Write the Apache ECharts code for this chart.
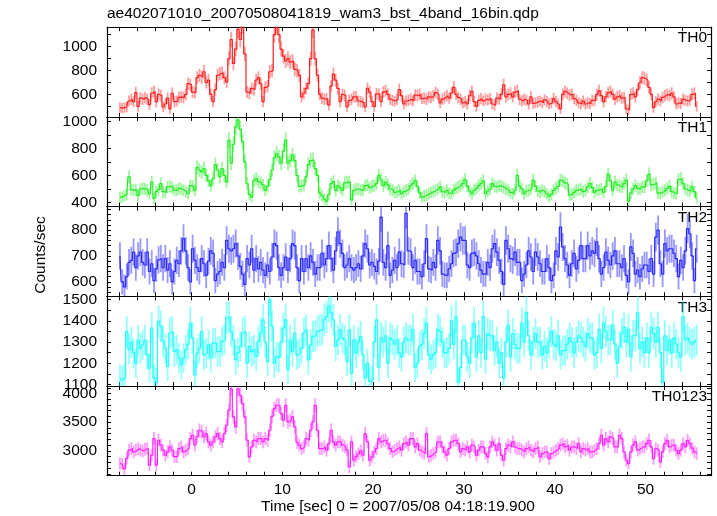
<!DOCTYPE html>
<html><head><meta charset="utf-8">
<script src="https://cdn.jsdelivr.net/npm/echarts@6/dist/echarts.min.js"></script>
<style>html,body{margin:0;padding:0;background:#fff}#c{width:717px;height:516px}</style>
</head><body><div id="c"></div>
<script>
const chartTitle = 'ae402071010_20070508041819_wam3_bst_4band_16bin.qdp';
const xAxisTitle = 'Time [sec] 0 = 2007/05/08 04:18:19.900';
const yAxisTitle = 'Counts/sec';
const bandNames = ['TH0', 'TH1', 'TH2', 'TH3', 'TH0123'];
const tStart = -7.875, binWidth = 0.25;

const th0 = [
490,485,490,495,545,560,540,615,
500,570,560,575,560,515,610,625,
540,600,590,495,520,570,480,610,
540,545,575,580,575,600,690,680,
620,615,740,760,745,790,700,720,
600,540,640,760,775,780,740,705,
900,1060,860,980,1145,1060,1175,940,
620,610,650,640,720,740,690,540,
660,670,790,800,1100,1180,1100,980,
920,880,900,870,880,810,800,760,
580,610,650,690,900,1140,900,760,
600,570,560,565,510,670,770,720,
650,540,600,590,495,550,560,580,
580,545,540,530,495,650,620,540,
500,605,600,540,620,630,600,560,
550,545,560,640,590,520,545,550,
560,545,595,590,600,565,570,560,
580,575,590,615,600,530,560,575,
590,570,610,660,600,575,560,530,
540,520,590,625,540,500,550,565,
545,560,555,565,520,510,570,560,
600,680,580,600,610,580,620,630,
560,545,560,550,520,580,525,530,
540,545,530,555,540,520,530,565,
540,520,480,600,625,610,595,600,
565,550,530,520,545,520,530,525,
550,545,600,630,590,540,580,615,
625,600,560,580,590,570,575,480,
470,600,610,580,640,700,740,735,
720,660,600,490,540,560,545,575,
590,600,590,610,580,520,530,525,
560,550,545,555,600,610,500
];
const th1 = [
440,440,450,460,590,495,490,495,
450,500,505,500,490,465,550,430,
480,495,540,480,475,515,520,510,
490,490,505,500,490,480,465,525,
520,490,660,640,625,650,600,560,
525,575,680,640,590,650,600,550,
860,690,830,960,1010,940,850,700,
540,460,440,560,575,555,545,530,
490,520,570,640,730,760,735,690,
780,860,690,710,750,710,600,520,
525,530,590,680,710,715,650,600,
470,450,425,410,460,540,555,490,
525,510,490,545,550,550,420,490,
500,500,490,495,525,530,510,520,
525,540,600,570,525,550,530,500,
490,475,480,490,465,480,490,500,
525,540,560,520,470,440,450,455,
465,475,480,490,500,515,480,475,
490,470,465,490,505,515,525,540,
570,520,485,465,490,505,525,540,
560,465,485,500,540,520,515,525,
520,510,500,490,475,465,490,600,
520,500,465,485,490,500,565,520,
485,475,490,480,465,445,460,490,
505,520,565,560,545,535,455,460,
475,490,495,500,480,490,515,540,
510,475,490,495,500,475,520,610,
560,490,550,530,520,515,540,565,
410,470,500,525,505,500,515,515,
560,610,530,535,545,470,470,480,
490,505,520,480,470,465,570,575,
540,500,490,485,515,480,435
];
const th2 = [
700,600,580,620,675,683,715,655,
700,715,675,665,715,640,670,605,
650,685,690,655,690,645,670,600,
640,683,670,720,767,720,655,600,
728,683,655,640,690,670,625,680,
720,710,605,630,640,675,655,760,
728,720,728,748,700,660,630,590,
690,665,728,645,690,650,675,645,
625,665,640,696,748,740,655,625,
655,696,645,690,748,740,655,605,
690,640,690,655,700,675,630,655,
655,710,665,690,740,690,645,720,
793,748,710,655,665,690,655,645,
655,670,650,700,748,728,665,675,
660,640,680,850,675,655,740,625,
645,683,655,715,670,665,865,720,
715,655,683,640,640,620,670,767,
650,645,675,655,760,720,630,625,
625,650,670,710,715,748,773,760,
760,665,655,710,715,700,670,645,
630,630,675,655,728,748,715,683,
640,590,760,728,690,683,715,675,
675,605,630,665,720,696,640,715,
696,670,640,640,690,655,605,625,
720,696,812,735,690,665,625,670,
710,650,683,740,690,690,740,700,
720,710,755,690,630,655,715,683,
665,700,720,670,670,655,690,625,
600,735,710,630,645,620,650,665,
665,640,690,630,773,800,670,630,
748,720,728,728,710,690,620,683,
655,720,806,786,700,605,728
];
const th3 = [
1130,1120,1130,1350,1265,1300,1250,1200,
1310,1270,1287,1310,1240,1177,1366,1130,
1110,1398,1375,1303,1270,1185,1343,1350,
1255,1265,1225,1193,1225,1265,1290,1390,
1320,1145,1248,1270,1350,1240,1248,1287,
1225,1295,1295,1255,1255,1303,1310,1414,
1420,1350,1310,1216,1250,1280,1343,1350,
1200,1280,1255,1265,1232,1303,1343,1405,
1300,1208,1500,1375,1200,1232,1225,1300,
1366,1405,1170,1310,1255,1343,1240,1248,
1270,1343,1358,1216,1287,1327,1330,1350,
1358,1358,1405,1420,1470,1440,1405,1280,
1310,1358,1320,1310,1208,1358,1153,1310,
1250,1300,1327,1240,1130,1200,1115,1120,
1300,1405,1180,1320,1300,1330,1200,1320,
1310,1290,1310,1250,1230,1300,1320,1310,
1310,1360,1180,1200,1280,1290,1340,1390,
1240,1220,1240,1250,1360,1350,1300,1250,
1250,1270,1400,1290,1420,1110,1180,1310,
1310,1230,1200,1320,1390,1230,1330,1250,
1420,1220,1340,1330,1330,1260,1300,1200,
1250,1130,1300,1380,1230,1340,1290,1270,
1270,1390,1300,1440,1330,1240,1300,1340,
1300,1300,1240,1280,1250,1300,1350,1290,
1280,1330,1240,1260,1260,1290,1320,1300,
1250,1300,1330,1320,1300,1280,1340,1320,
1320,1240,1250,1360,1270,1390,1350,1310,
1310,1380,1290,1200,1280,1340,1370,1300,
1360,1230,1330,1330,1440,1270,1300,1250,
1320,1250,1370,1340,1300,1370,1250,1110,
1330,1260,1310,1250,1320,1290,1250,1230,
1420,1310,1320,1300,1290,1300,1310
];
const th0123 = [
2780,2770,2690,2870,3012,3040,2983,3012,
3040,3012,3000,3030,3040,2750,2925,3215,
2750,3186,3100,3012,2925,2983,3070,3012,
2900,2895,3040,3070,2983,3012,3040,3215,
3273,3100,3250,3360,3331,3244,3302,3157,
3100,3157,3244,3302,3215,3157,3300,3447,
3710,4080,3593,3418,4080,3970,3825,3593,
3186,2895,3070,3186,3157,3215,3215,3157,
3215,3186,3360,3600,3738,3796,3796,3650,
3535,3796,3505,3535,3593,3418,3150,3100,
3040,3070,3215,3186,3360,3505,3796,3360,
3040,3040,3070,3012,3128,3360,3157,3100,
3157,3157,3100,3070,3012,2721,3157,2837,
2900,2950,3000,2925,3300,3157,2837,2895,
2983,3040,3215,3157,3186,3186,3128,3040,
2983,3012,3040,3070,3012,3128,3157,3100,
3215,3215,3070,3128,3012,2983,2954,3302,
2895,2925,2954,2983,3157,3157,3070,2983,
2925,3040,3157,3186,3186,3128,2983,3040,
3012,3070,2983,3100,3070,2925,3012,3070,
3070,2954,2895,3070,3157,3100,3012,3128,
2925,2837,3040,3100,3070,3157,3070,3040,
3040,3012,2983,3040,3070,3012,2983,3040,
3070,2895,2954,2983,2983,2866,2954,2983,
3012,3040,3100,3128,3070,3100,3012,3070,
3070,3040,3128,2983,3040,3012,3040,2983,
2983,3012,3040,3128,3273,3100,3215,3157,
3244,3215,3070,3070,3273,3215,2983,2837,
2780,2983,3100,3157,3012,3040,3070,3070,
3128,3186,3070,2866,3040,3012,2808,2983,
3128,3186,3070,3100,3100,3012,2954,3012,
3128,3070,3186,3128,3050,2983,2954
];

const xTickValues = [-8,-6,-4,-2,0,2,4,6,8,10,12,14,16,18,20,22,24,26,28,30,32,34,36,38,40,42,44,46,48,50,52,54,56];
const xLabelValues = [0, 10, 20, 30, 40, 50];
const yTickValues = [
  [500,600,700,800,900,1000,1100],
  [400,500,600,700,800,900,1000],
  [560,580,600,620,640,660,680,700,720,740,760,780,800,820,840,860,880],
  [1100,1150,1200,1250,1300,1350,1400,1450,1500],
  [2600,2700,2800,2900,3000,3100,3200,3300,3400,3500,3600,3700,3800,3900,4000,4100]
];
const yLabelValues = [
  [600, 800, 1000],
  [400, 600, 800, 1000],
  [600, 700, 800],
  [1100, 1200, 1300, 1400, 1500],
  [3000, 3500, 4000]
];
const yRanges = [[412,1163],[370,1032],[544,891],[1093,1516],[2568,4131]];
const bandValues = [th0, th1, th2, th3, th0123];

const lineColors = ['#ff2020', '#22ee22', '#2a2aff', '#22ffff', '#ff22ff'];
const errColors = ['rgba(255,40,40,0.45)', 'rgba(40,235,40,0.45)', 'rgba(50,50,255,0.5)', 'rgba(40,255,255,0.5)', 'rgba(255,40,255,0.45)'];

const FONT = 'Liberation Sans, Arial, Helvetica, sans-serif';
const gridLeft = 107, gridWidth = 604, gridTop0 = 27.2, gridH = 89.7;
const xMin = -9.3, xMax = 57.2;
const plainNum = function (v) { return String(v); };

const grids = [], xAxes = [], yAxes = [], series = [], graphics = [];
bandValues.forEach(function (vals, k) {
  const top = gridTop0 + k * gridH;
  grids.push({ left: gridLeft, top: top, width: gridWidth, height: gridH, show: false });
  const tickStyle = { show: true, inside: true, length: 4, lineStyle: { color: '#000', width: 1 } };
  xAxes.push({
    type: 'value', gridIndex: k, min: xMin, max: xMax, position: 'bottom',
    axisLine: { show: true, onZero: false, lineStyle: { color: '#000', width: 1.2 } },
    axisTick: Object.assign({ customValues: xTickValues }, tickStyle),
    axisLabel: { show: k === 4, customValues: xLabelValues, formatter: plainNum, color: '#000', fontSize: 15.5, fontFamily: FONT, margin: 6 },
    splitLine: { show: false }
  });
  xAxes.push({
    type: 'value', gridIndex: k, min: xMin, max: xMax, position: 'top',
    axisLine: { show: true, onZero: false, lineStyle: { color: '#000', width: 1.2 } },
    axisTick: Object.assign({ customValues: xTickValues }, tickStyle),
    axisLabel: { show: false }, splitLine: { show: false }
  });
  const r = yRanges[k];
  yAxes.push({
    type: 'value', gridIndex: k, min: r[0], max: r[1], position: 'left',
    axisLine: { show: true, onZero: false, lineStyle: { color: '#000', width: 1.2 } },
    axisTick: Object.assign({ customValues: yTickValues[k] }, tickStyle),
    axisLabel: { show: true, customValues: yLabelValues[k], formatter: plainNum, color: '#000', fontSize: 15.5, fontFamily: FONT, margin: 10 },
    splitLine: { show: false }
  });
  yAxes.push({
    type: 'value', gridIndex: k, min: r[0], max: r[1], position: 'right',
    axisLine: { show: true, onZero: false, lineStyle: { color: '#000', width: 1.2 } },
    axisTick: Object.assign({ customValues: yTickValues[k] }, tickStyle),
    axisLabel: { show: false }, splitLine: { show: false }
  });
  const pts = vals.map(function (v, i) { return [tStart + i * binWidth, v]; });
  const errPts = vals.map(function (v, i) { return [tStart + i * binWidth, v, Math.sqrt(v / binWidth)]; });
  const col = errColors[k];
  series.push({
    type: 'custom', xAxisIndex: 2 * k, yAxisIndex: 2 * k, clip: true, silent: true,
    data: errPts,
    renderItem: function (params, api) {
      const x = api.value(0), y = api.value(1), e = api.value(2);
      const p1 = api.coord([x, y - e]), p2 = api.coord([x, y + e]);
      return { type: 'line', shape: { x1: p1[0], y1: p1[1], x2: p2[0], y2: p2[1] }, style: { stroke: col, lineWidth: 1.8 } };
    }
  });
  series.push({
    type: 'line', xAxisIndex: 2 * k, yAxisIndex: 2 * k, step: 'middle', clip: true,
    showSymbol: false, symbol: 'none', silent: true,
    lineStyle: { color: lineColors[k], width: 1.2 },
    data: pts
  });
  graphics.push({
    type: 'text', x: 707, y: top + 11,
    style: { text: bandNames[k], fill: '#000', font: '15.5px ' + FONT, textAlign: 'right', textVerticalAlign: 'middle' }
  });
});

graphics.push({ type: 'text', x: 107, y: 14, style: { text: chartTitle, fill: '#000', font: '15.5px ' + FONT, textAlign: 'left', textVerticalAlign: 'middle' } });
graphics.push({ type: 'text', x: 398, y: 507, style: { text: xAxisTitle, fill: '#000', font: '15.5px ' + FONT, textAlign: 'center', textVerticalAlign: 'middle' } });
graphics.push({ type: 'text', x: 41, y: 255, rotation: Math.PI / 2,
  style: { text: yAxisTitle, fill: '#000', font: '15.5px ' + FONT, textAlign: 'center', textVerticalAlign: 'middle' } });

const chart = echarts.init(document.getElementById('c'), null, { renderer: 'canvas' });
chart.setOption({
  animation: false,
  backgroundColor: '#fff',
  grid: grids, xAxis: xAxes, yAxis: yAxes, series: series, graphic: graphics
});
</script></body></html>
